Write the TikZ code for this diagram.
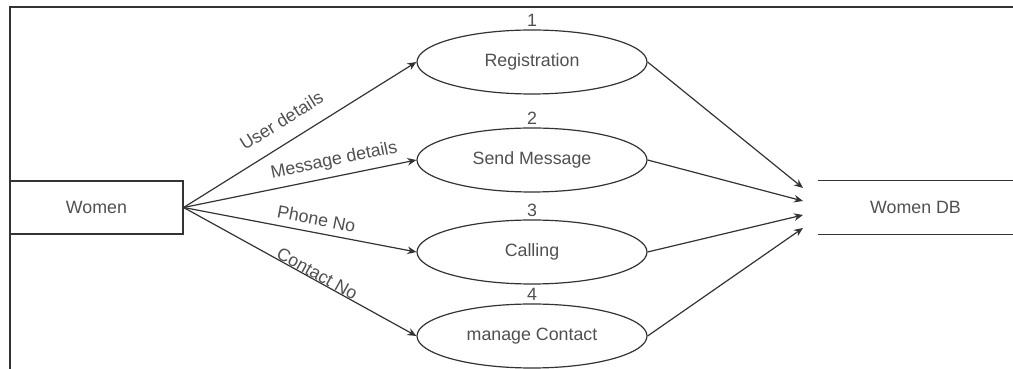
\documentclass[tikz,border=0pt]{standalone}
\usepackage{fontspec}
\setmainfont{Liberation Sans}
\usetikzlibrary{shapes.geometric,arrows.meta}
\definecolor{inkgray}{HTML}{333333}
\definecolor{textgray}{HTML}{505050}

\begin{document}
\begin{tikzpicture}[x=0.5pt,y=0.5pt,font=\fontsize{8.9}{10}\selectfont,
every node/.style={text=textgray},
entity/.style={draw=inkgray,line width=0.6pt,minimum width=86.5pt,minimum height=26.5pt},
process/.style={ellipse,draw=inkgray,line width=0.6pt,minimum width=115pt,minimum height=32pt,inner sep=0pt},
store/.style={minimum width=97.5pt,minimum height=26.5pt},
flow/.style={draw=inkgray,line width=0.6pt,-{Stealth[length=4.5pt,width=3.8pt]}},
flowlabel/.style={sloped,above}]
\useasboundingbox (0,0) rectangle (1013,369);
% frame
\draw[inkgray,line width=0.7pt] (10,0) -- (10,362) -- (1013,362);

% external entity and data store
\node[entity] (women) at (96.5,161.5) {Women};
\node[store] (db) at (915.5,161.5) {Women DB};
\draw[inkgray,line width=0.6pt] (db.north west) -- (db.north east);
\draw[inkgray,line width=0.6pt] (db.south west) -- (db.south east);

% processes
\node[process,label={[label distance=-2pt]above:1}] (reg) at (532,307) {Registration};
\node[process,label={[label distance=-2pt]above:2}] (msg) at (532,209) {Send Message};
\node[process,label={[label distance=-2pt]above:3}] (call) at (532,117) {Calling};
\node[process,label={[label distance=-2pt]above:4}] (contact) at (532,33) {manage Contact};

% inputs
\draw[flow] (women.east) -- node[flowlabel,pos=0.47,above=4pt] {User details} (reg.west);
\draw[flow] (women.east) -- node[flowlabel,pos=0.66] {Message details} (msg.west);
\draw[flow] (women.east) -- node[flowlabel,pos=0.56] {Phone No} (call.west);
\draw[flow] (women.east) -- node[flowlabel,pos=0.56,inner sep=0pt] {Contact No} (contact.west);

% outputs to store
\coordinate (in1) at (803,181);
\coordinate (in2) at (803,168);
\coordinate (in3) at (803,154);
\coordinate (in4) at (803,141);
\draw[flow] (reg.east) -- (in1);
\draw[flow] (msg.east) -- (in2);
\draw[flow] (call.east) -- (in3);
\draw[flow] (contact.east) -- (in4);
\end{tikzpicture}
\end{document}
